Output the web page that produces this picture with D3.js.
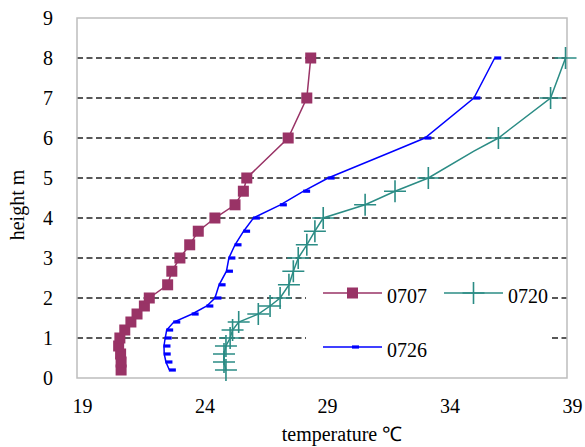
<!DOCTYPE html>
<html>
<head>
<meta charset="utf-8">
<script src="https://cdn.jsdelivr.net/npm/d3@7"></script>
<style>
  html, body { margin: 0; padding: 0; background: #fff; }
  svg text { font-family: "Liberation Serif", "Times New Roman", serif; fill: #000; }
</style>
</head>
<body>
<svg id="chart" width="585" height="447"></svg>
<script>
// ---- data ----
const heights0707 = [0.2,0.4,0.6,0.8,1.0,1.2,1.4,1.6,1.8,2.0,2.33,2.67,3.0,3.33,3.67,4.0,4.33,4.67,5.0,6,7,8];
const temp0707    = [20.8,20.8,20.78,20.7,20.75,20.95,21.2,21.45,21.75,21.95,22.7,22.87,23.2,23.6,23.95,24.63,25.45,25.79,25.93,27.62,28.38,28.54];

const heights0720 = [0.2,0.4,0.6,0.8,1.0,1.2,1.4,1.6,1.8,2.0,2.33,2.67,3.0,3.33,3.67,4.0,4.33,4.67,5.0,5.67,6,7,8];
const temp0720    = [25.08,25.0,25.0,25.08,25.25,25.35,25.6,26.4,26.88,27.29,27.65,27.83,28.03,28.38,28.71,29.05,30.76,31.98,33.34,35.2,36.2,38.33,38.94];

const heights0726 = [0.2,0.4,0.6,0.8,1.0,1.2,1.4,1.6,1.8,2.0,2.33,2.67,3.0,3.33,3.67,4.0,4.33,4.67,5.0,5.67,6,7,8];
const temp0726    = [22.77,22.63,22.56,22.55,22.6,22.66,22.95,23.7,24.3,24.63,24.8,25.1,25.2,25.45,25.8,26.2,27.3,28.25,29.25,31.9,33.2,35.2,36.05];

const unmarkedHeights = [5.67];
const xTicks = [19,24,29,34,39];
const yTicks = [0,1,2,3,4,5,6,7,8,9];
const gridValues = [1,2,3,4,5,6,7,8];
const seriesNames = ["0707","0720","0726"];
const xTitle = "temperature \u2103";
const yTitle = "height m";

// ---- layout ----
const svg = d3.select("#chart");
const mLeft = 77, mRight = 567, mTop = 18, mBottom = 378;
const x = d3.scaleLinear().domain([19,39]).range([mLeft,mRight]);
const y = d3.scaleLinear().domain([0,9]).range([mBottom,mTop]);

const colors = {"0707":"#993366","0720":"#2b8c85","0726":"#0000ff"};

// gridlines
svg.append("g").selectAll("line").data(gridValues).join("line")
  .attr("x1", mLeft).attr("x2", mRight)
  .attr("y1", d => y(d)).attr("y2", d => y(d))
  .attr("stroke", "#222").attr("stroke-width", 1.5)
  .attr("stroke-dasharray", "6,3.5");

// plot border
svg.append("rect").attr("x", mLeft).attr("y", mTop)
  .attr("width", mRight-mLeft).attr("height", mBottom-mTop)
  .attr("fill", "none").attr("stroke", "#bdbdbd").attr("stroke-width", 1.5);

// axes (labels only, no ticks)
const xAxis = d3.axisBottom(x).tickValues(xTicks).tickSize(0).tickPadding(0).tickFormat(d3.format("d"));
const gx = svg.append("g").attr("transform", `translate(5,${mBottom})`).call(xAxis);
gx.select(".domain").remove();
gx.selectAll("text").attr("font-size", 20).attr("dy", null).attr("y", 35)
  .style("font-family", "Liberation Serif");

const yAxis = d3.axisLeft(y).tickValues(yTicks).tickSize(0).tickPadding(0).tickFormat(d3.format("d"));
const gy = svg.append("g").attr("transform", `translate(53,0)`).call(yAxis);
gy.select(".domain").remove();
gy.selectAll("text").attr("font-size", 20).attr("x", 0).attr("dy", "0.34em")
  .style("font-family", "Liberation Serif");

// titles
svg.append("text").attr("x", 342).attr("y", 441).attr("text-anchor", "middle")
  .attr("font-size", 20).text(xTitle);
svg.append("text").attr("transform", "translate(24,205) rotate(-90)")
  .attr("text-anchor", "middle").attr("font-size", 20).text(yTitle);

// series
const mk = (hs, ts) => hs.map((h,i) => ({h, t: ts[i]}));
const data = {
  "0707": mk(heights0707, temp0707),
  "0720": mk(heights0720, temp0720),
  "0726": mk(heights0726, temp0726)
};
const line = d3.line().x(d => x(d.t)).y(d => y(d.h));

function drawSquare(g, cx, cy, color) {
  g.append("rect").attr("x", cx-5.5).attr("y", cy-5.5).attr("width", 11).attr("height", 11)
    .attr("fill", color);
}
function drawCross(g, cx, cy, color) {
  g.append("path").attr("d", `M${cx-11},${cy}H${cx+11}M${cx},${cy-11}V${cy+11}`)
    .attr("stroke", color).attr("stroke-width", 1.6).attr("fill", "none");
}
function drawDash(g, cx, cy, color) {
  g.append("rect").attr("x", cx-0.5).attr("y", cy-1.6).attr("width", 7).attr("height", 3.2)
    .attr("fill", color);
}
const markerFn = {"0707": drawSquare, "0720": drawCross, "0726": drawDash};

const order = ["0720","0726","0707"];
order.forEach(name => {
  const g = svg.append("g");
  g.append("path").datum(data[name]).attr("d", line)
    .attr("fill", "none").attr("stroke", colors[name]).attr("stroke-width", 1.5);
  data[name].filter(d => !unmarkedHeights.includes(d.h))
    .forEach(d => markerFn[name](g, x(d.t), y(d.h), colors[name]));
});

// legend
const lg = svg.append("g");
lg.append("rect").attr("x", 306).attr("y", 276).attr("width", 245).attr("height", 88).attr("fill", "#fff");
const legendItems = [
  {name: "0707", x0: 323, yLine: 293},
  {name: "0720", x0: 444, yLine: 293},
  {name: "0726", x0: 323, yLine: 347}
];
legendItems.forEach(it => {
  lg.append("line").attr("x1", it.x0).attr("x2", it.x0+59)
    .attr("y1", it.yLine).attr("y2", it.yLine)
    .attr("stroke", colors[it.name]).attr("stroke-width", 1.5);
  markerFn[it.name](lg, it.x0+29.5, it.yLine, colors[it.name]);
  lg.append("text").attr("x", it.x0+64).attr("y", it.yLine+10)
    .attr("font-size", 20).text(it.name);
});
</script>
</body>
</html>
